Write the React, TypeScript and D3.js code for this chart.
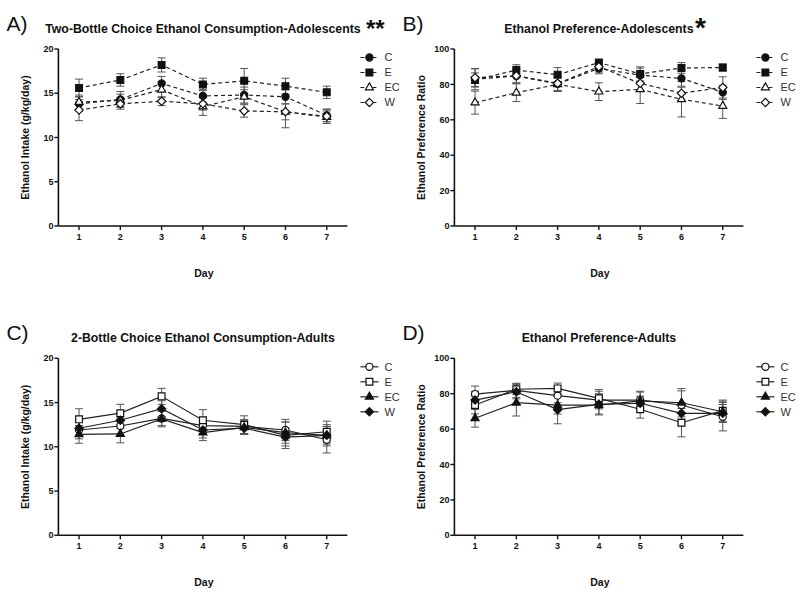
import React from 'react';
import * as d3 from 'd3';

const days = [1, 2, 3, 4, 5, 6, 7];
const groups = ['C', 'E', 'EC', 'W'];
const intakeTicks = [0, 5, 10, 15, 20];
const prefTicks = [0, 20, 40, 60, 80, 100];

// Panel A: adolescents intake
const aC = [13.8, 14.3, 16.1, 14.7, 14.8, 14.6, 12.5];
const aE = [15.6, 16.5, 18.2, 16.0, 16.4, 15.8, 15.1];
const aEC = [14.0, 14.2, 15.4, 13.5, 14.6, 12.9, 12.3];
const aW = [13.1, 13.8, 14.1, 13.8, 13.0, 12.9, 12.4];
const aCErr = [0.8, 0.9, 0.8, 0.7, 0.9, 0.8, 0.7];
const aEErr = [1.0, 0.7, 0.8, 0.7, 1.4, 0.9, 0.7];
const aECErr = [0.8, 0.7, 0.9, 1.0, 0.8, 1.8, 0.7];
const aWErr = [1.2, 0.6, 0.5, 0.7, 0.7, 0.9, 0.8];

// Panel B: adolescents preference
const bC = [83.0, 84.7, 80.3, 89.0, 85.2, 83.4, 75.5];
const bE = [82.5, 88.1, 85.5, 92.3, 85.9, 89.3, 89.5];
const bEC = [69.7, 75.3, 80.0, 75.9, 77.2, 71.6, 67.8];
const bW = [83.8, 84.9, 80.6, 90.0, 80.6, 75.0, 78.3];
const bCErr = [6, 4, 4, 3, 4, 5, 4];
const bEErr = [4, 3, 4, 2, 4, 3, 2];
const bECErr = [6.5, 5, 4, 5, 8, 10, 7];
const bWErr = [5, 4, 4, 3, 4, 4, 6];

// Panel C: adults intake
const cC = [11.9, 12.35, 13.2, 12.4, 12.3, 11.9, 10.8];
const cE = [13.1, 13.8, 15.7, 13.0, 12.5, 11.3, 11.7];
const cEC = [11.4, 11.45, 13.15, 11.6, 12.2, 11.6, 11.3];
const cW = [12.1, 13.0, 14.3, 11.9, 12.1, 11.1, 11.3];
const cCErr = [1.0, 1.0, 0.8, 0.9, 0.8, 1.2, 1.5];
const cEErr = [1.2, 1.0, 0.9, 1.2, 1.0, 1.5, 1.2];
const cECErr = [1.0, 1.0, 0.9, 0.9, 0.8, 1.2, 1.0];
const cWErr = [0.8, 0.9, 0.9, 0.9, 0.7, 1.0, 1.2];

// Panel D: adults preference
const dC = [79.8, 81.9, 78.9, 76.4, 76.4, 73.6, 67.0];
const dE = [73.6, 82.5, 83.0, 77.4, 71.2, 63.6, 70.4];
const dEC = [66.1, 74.9, 73.5, 73.5, 75.9, 74.9, 69.8];
const dW = [76.4, 81.1, 71.0, 74.0, 74.6, 68.9, 68.9];
const dCErr = [4.5, 4, 4, 5, 5, 8, 8];
const dEErr = [5, 3, 3, 5, 5, 8, 6];
const dECErr = [5, 7.5, 5, 5, 5, 8, 6];
const dWErr = [5, 4, 8, 6, 4, 6, 5];

type Shape = 'circle' | 'square' | 'triangle' | 'diamond';
type SeriesDef = { name: string; values: number[]; errs: number[]; shape: Shape; filled: boolean };
type PanelDef = {
  letter: string;
  title: string;
  stars: string;
  starX: number;
  starSize: number;
  yLabel: string;
  yMax: number;
  yTicks: number[];
  dashed: boolean;
  x0: number;
  y0: number;
  series: SeriesDef[];
};

const FONT = "'Liberation Sans', Arial, Helvetica, sans-serif";

const symbolTypes: Record<Shape, d3.SymbolType> = {
  circle: d3.symbolCircle,
  square: d3.symbolSquare,
  triangle: d3.symbolTriangle,
  diamond: d3.symbolDiamond2,
};
const symbolSizes: Record<Shape, number> = { circle: 40, square: 46, triangle: 28, diamond: 44 };

function Marker({ shape, filled, x, y }: { shape: Shape; filled: boolean; x: number; y: number }) {
  const d = d3.symbol().type(symbolTypes[shape]).size(symbolSizes[shape])() || '';
  return (
    <path
      d={d}
      transform={`translate(${x},${y})`}
      fill={filled ? '#111' : '#fff'}
      stroke="#111"
      strokeWidth={1.2}
    />
  );
}

function Panel({ p }: { p: PanelDef }) {
  const plotW = 289;
  const plotH = 177;
  const x = d3.scaleLinear().domain([0.5, 7.5]).range([p.x0, p.x0 + plotW]);
  const y = d3.scaleLinear().domain([0, p.yMax]).range([p.y0 + plotH, p.y0]);
  const line = d3
    .line<number>()
    .x((_, i) => x(days[i]))
    .y((v) => y(v));
  const dash = p.dashed ? '4,3' : undefined;
  const cx = (x(1) + x(7)) / 2;
  const legX = p.x0 + plotW + 13;
  return (
    <g>
      <text x={p.x0 - 52} y={p.y0 - 18} fontFamily={FONT} fontSize={21} fill="#111">
        {p.letter}
      </text>
      <text x={cx} y={p.y0 - 16} textAnchor="middle" fontFamily={FONT} fontSize={12.3} fontWeight="bold" fill="#111">
        {p.title}
      </text>
      {p.stars && (
        <text x={p.starX} y={p.y0 - 12} fontFamily={FONT} fontSize={p.starSize} fontWeight="bold" fill="#111">
          {p.stars}
        </text>
      )}

      {/* error bars */}
      {p.series.map((s) =>
        s.values.map((v, i) => {
          const xi = x(days[i]);
          const yt = y(v + s.errs[i]);
          const yb = y(v - s.errs[i]);
          return (
            <g key={s.name + 'e' + i} stroke="#555" strokeWidth={1}>
              <line x1={xi} x2={xi} y1={yt} y2={yb} />
              <line x1={xi - 4} x2={xi + 4} y1={yt} y2={yt} />
              <line x1={xi - 4} x2={xi + 4} y1={yb} y2={yb} />
            </g>
          );
        })
      )}
      {/* lines */}
      {p.series.map((s) => (
        <path key={s.name + 'l'} d={line(s.values) || ''} fill="none" stroke="#222" strokeWidth={1.2} strokeDasharray={dash} />
      ))}
      {/* markers */}
      {p.series.map((s) =>
        s.values.map((v, i) => <Marker key={s.name + 'm' + i} shape={s.shape} filled={s.filled} x={x(days[i])} y={y(v)} />)
      )}

      {/* axes */}
      <line x1={p.x0} x2={p.x0} y1={y(0)} y2={y(p.yMax)} stroke="#111" strokeWidth={1.6} />
      <line x1={p.x0} x2={p.x0 + plotW} y1={y(0)} y2={y(0)} stroke="#111" strokeWidth={1.6} />
      {p.yTicks.map((t) => (
        <g key={'yt' + t}>
          <line x1={p.x0 - 4} x2={p.x0} y1={y(t)} y2={y(t)} stroke="#111" strokeWidth={1.4} />
          <text x={p.x0 - 5} y={y(t)} dy="0.35em" textAnchor="end" fontFamily={FONT} fontSize={9} fontWeight="bold" fill="#111">
            {t}
          </text>
        </g>
      ))}
      {days.map((d) => (
        <g key={'xt' + d}>
          <line x1={x(d)} x2={x(d)} y1={y(0)} y2={y(0) + 4} stroke="#111" strokeWidth={1.4} />
          <text x={x(d)} y={y(0) + 14} textAnchor="middle" fontFamily={FONT} fontSize={9} fontWeight="bold" fill="#111">
            {d}
          </text>
        </g>
      ))}
      <text x={cx + 1} y={y(0) + 51} textAnchor="middle" fontFamily={FONT} fontSize={10.5} fontWeight="bold" fill="#111">
        Day
      </text>
      <text
        transform={`translate(${p.x0 - 29},${(y(0) + y(p.yMax)) / 2}) rotate(-90)`}
        textAnchor="middle"
        fontFamily={FONT}
        fontSize={10.5}
        fontWeight="bold"
        fill="#111"
      >
        {p.yLabel}
      </text>

      {/* legend */}
      {p.series.map((s, i) => {
        const ly = p.y0 + 8.5 + i * 15;
        return (
          <g key={'lg' + s.name}>
            <line x1={legX} x2={legX + 18} y1={ly} y2={ly} stroke="#222" strokeWidth={1.2} strokeDasharray={p.dashed ? '4,2' : undefined} />
            <Marker shape={s.shape} filled={s.filled} x={legX + 9} y={ly} />
            <text x={legX + 24} y={ly} dy="0.36em" fontFamily={FONT} fontSize={11} fill="#333">
              {s.name}
            </text>
          </g>
        );
      })}
    </g>
  );
}

const adolShapes: { shape: Shape; filled: boolean }[] = [
  { shape: 'circle', filled: true },
  { shape: 'square', filled: true },
  { shape: 'triangle', filled: false },
  { shape: 'diamond', filled: false },
];
const adultShapes: { shape: Shape; filled: boolean }[] = [
  { shape: 'circle', filled: false },
  { shape: 'square', filled: false },
  { shape: 'triangle', filled: true },
  { shape: 'diamond', filled: true },
];

function mk(vals: number[][], errs: number[][], shapes: { shape: Shape; filled: boolean }[]): SeriesDef[] {
  return groups.map((g, i) => ({ name: g, values: vals[i], errs: errs[i], ...shapes[i] }));
}

const panels: PanelDef[] = [
  {
    letter: 'A)',
    title: 'Two-Bottle Choice Ethanol Consumption-Adolescents',
    stars: '**',
    starX: 366,
    starSize: 24,
    yLabel: 'Ethanol Intake (g/kg/day)',
    yMax: 20,
    yTicks: intakeTicks,
    dashed: true,
    x0: 58.4,
    y0: 49,
    series: mk([aC, aE, aEC, aW], [aCErr, aEErr, aECErr, aWErr], adolShapes),
  },
  {
    letter: 'B)',
    title: 'Ethanol Preference-Adolescents',
    stars: '*',
    starX: 695,
    starSize: 28,
    yLabel: 'Ethanol Preference Ratio',
    yMax: 100,
    yTicks: prefTicks,
    dashed: true,
    x0: 454.4,
    y0: 49,
    series: mk([bC, bE, bEC, bW], [bCErr, bEErr, bECErr, bWErr], adolShapes),
  },
  {
    letter: 'C)',
    title: '2-Bottle Choice Ethanol Consumption-Adults',
    stars: '',
    starX: 0,
    starSize: 24,
    yLabel: 'Ethanol Intake (g/kg/day)',
    yMax: 20,
    yTicks: intakeTicks,
    dashed: false,
    x0: 58.4,
    y0: 358.3,
    series: mk([cC, cE, cEC, cW], [cCErr, cEErr, cECErr, cWErr], adultShapes),
  },
  {
    letter: 'D)',
    title: 'Ethanol Preference-Adults',
    stars: '',
    starX: 0,
    starSize: 24,
    yLabel: 'Ethanol Preference Ratio',
    yMax: 100,
    yTicks: prefTicks,
    dashed: false,
    x0: 454.4,
    y0: 358.3,
    series: mk([dC, dE, dEC, dW], [dCErr, dEErr, dECErr, dWErr], adultShapes),
  },
];

export default function App() {
  return (
    <svg
      width={800}
      height={597}
      viewBox="0 0 800 597"
      style={{ position: 'absolute', left: 0, top: 0, display: 'block', background: '#fff' }}
    >
      <rect width={800} height={597} fill="#fff" />
      {panels.map((p) => (
        <Panel key={p.letter} p={p} />
      ))}
    </svg>
  );
}
